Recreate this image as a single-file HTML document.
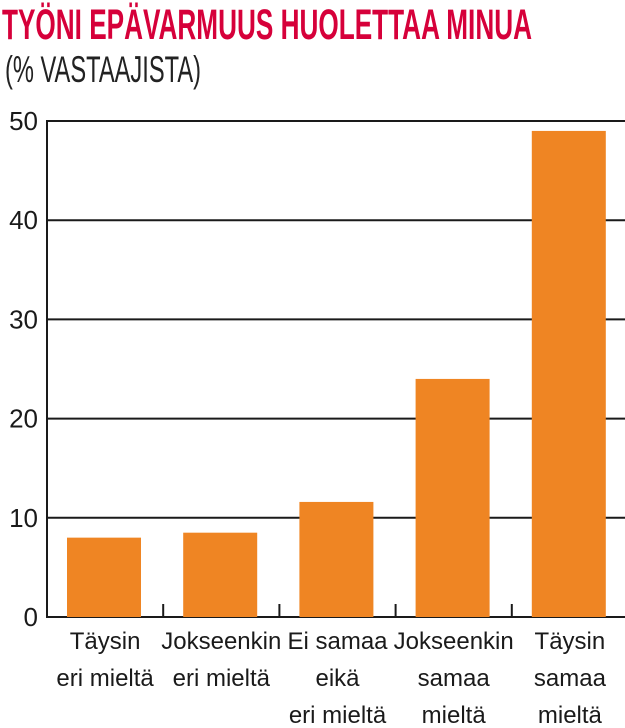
<!DOCTYPE html>
<html><head><meta charset="utf-8"><style>
html,body{margin:0;padding:0;background:#fff;}
svg{display:block;font-family:"Liberation Sans Narrow","Liberation Sans",sans-serif;}
</style></head><body>
<svg id="chart" width="625" height="728" viewBox="0 0 625 728">
<text x="2" y="39" font-size="43" font-weight="bold" fill="#d6003a" textLength="530" lengthAdjust="spacingAndGlyphs">TYÖNI EPÄVARMUUS HUOLETTAA MINUA</text>
<text x="5" y="82" font-size="37" fill="#222" textLength="196" lengthAdjust="spacingAndGlyphs">(% VASTAAJISTA)</text>
<g id="grid"></g><g id="bars"></g><g id="axes"></g><g id="labels"></g>
</svg>
<script>
const categories = [["Täysin","eri mieltä"],["Jokseenkin","eri mieltä"],["Ei samaa","eikä","eri mieltä"],["Jokseenkin","samaa","mieltä"],["Täysin","samaa","mieltä"]];
const values = [8, 8.5, 11.6, 24, 49];
const yTicks = [0, 10, 20, 30, 40, 50];
const NS = "http://www.w3.org/2000/svg";
const x0 = 47, catW = 116.2, barW = 74, barOff = 20;
const yBase = 617, yTop = 121, yMax = 50;
function y(v){ return yBase - (v / yMax) * (yBase - yTop); }
function xCat(i){ return x0 + i * catW; }
function mk(tag, attrs, parent){ const e = document.createElementNS(NS, tag); for (const k in attrs) e.setAttribute(k, attrs[k]); document.getElementById(parent).appendChild(e); return e; }
yTicks.forEach(t => {
  const l = mk("line", {x1: x0, x2: 625, y1: y(t), y2: y(t), stroke: "#1a1a1a", "stroke-width": 2}, "grid");
  
  
  const tx = mk("text", {x: 38, y: y(t) + 9, "font-size": 26, fill: "#1a1a1a", "text-anchor": "end"}, "labels");
  tx.textContent = t;
  
  
});
values.forEach((v, i) => {
  const r = mk("rect", {x: xCat(i) + barOff, y: y(v), width: barW, height: yBase - y(v), fill: "#ef8523"}, "bars");
  
  
  const cx = xCat(i) + catW / 2;
  categories[i].forEach((line, j) => {
    const t = mk("text", {x: cx, y: 649 + j * 37, "font-size": 24, fill: "#1a1a1a", "text-anchor": "middle"}, "labels");
    t.textContent = line;
    
    
  });
  const tk = mk("line", {x1: xCat(i + 1), x2: xCat(i + 1), y1: yBase - 13, y2: yBase, stroke: "#1a1a1a", "stroke-width": 2}, "axes");
  
  
});
const ax = mk("line", {x1: x0, x2: x0, y1: yTop - 1, y2: yBase + 1, stroke: "#1a1a1a", "stroke-width": 2}, "axes");


</script>
</body></html>
